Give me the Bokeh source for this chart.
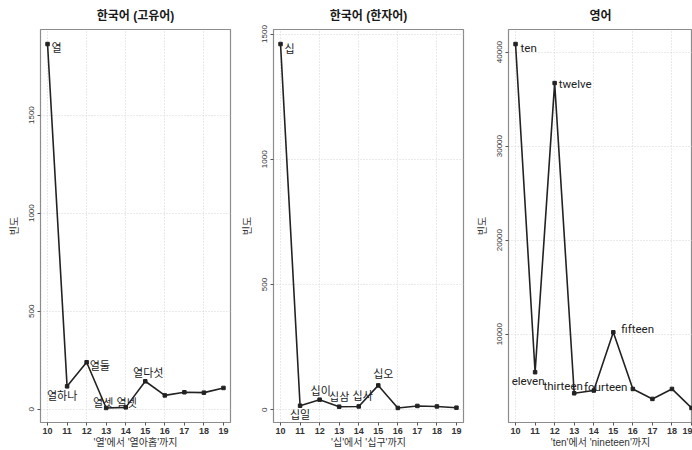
from bokeh.plotting import figure
from bokeh.layouts import row
from bokeh.models import FixedTicker, ColumnDataSource, Range1d
from bokeh.core.properties import value
from bokeh.embed import file_html
from bokeh.resources import INLINE

numbers = [10, 11, 12, 13, 14, 15, 16, 17, 18, 19]

native_words = ["열", "열하나", "열둘", "열셋", "열넷", "열다섯", "열여섯", "열일곱", "열여덟", "열아홉"]
native_freq = [1862, 117, 240, 7, 10, 143, 71, 87, 85, 109]

sino_words = ["십", "십일", "십이", "십삼", "십사", "십오", "십육", "십칠", "십팔", "십구"]
sino_freq = [1460, 16, 40, 12, 13, 97, 7, 15, 13, 8]

english_words = ["ten", "eleven", "twelve", "thirteen", "fourteen", "fifteen",
                 "sixteen", "seventeen", "eighteen", "nineteen"]
english_freq = [40850, 5960, 36700, 3720, 4010, 10200, 4180, 3120, 4180, 2160]

native_yticks = [0, 500, 1000, 1500]
sino_yticks = [0, 500, 1000, 1500]
english_yticks = [10000, 20000, 30000, 40000]

titles = ["한국어 (고유어)", "한국어 (한자어)", "영어"]
xlabels = ["'열'에서 '열아홉'까지", "'십'에서 '십구'까지", "'ten'에서 'nineteen'까지"]
ylabel = "빈도"
n_labelled = 6

# label placement styles (screen pixel offsets, alignment)
native_style = [(4, 3, "left"), (-5, 9, "center"), (3, 3, "left"),
                (-3, -6, "center"), (1, -5, "center"), (3, -9, "center")]
sino_style = [(4, 4, "left"), (0, 8, "center"), (1, -10, "center"),
              (0, -11, "center"), (4, -11, "center"), (5, -12, "center")]
english_style = [(5, 4, "left"), (-7, 9, "center"), (4, 1, "left"),
                 (-11, -7, "center"), (12, -4, "center"), (8, -3, "left")]

KFONT = "Noto Sans CJK KR"
MIXFONT = "Liberation Sans, Noto Sans CJK KR"
EFONT = "Roboto"


def panel(title, words, freq, xlabel, yticks, style, label_font, label_size,
          width, bl, br, xend):
    span = max(freq) - min(freq)
    ylo = min(freq) - 0.04 * span
    yhi = max(freq) + 0.04 * span
    p = figure(width=width, height=450, output_backend="svg", toolbar_location=None,
               x_range=Range1d(9.64, xend), y_range=Range1d(ylo, yhi),
               min_border_left=bl, min_border_right=br, min_border_top=0,
               min_border_bottom=0, title=title)
    p.title.align = "center"
    p.title.text_font = MIXFONT
    p.title.text_font_size = "12px"
    p.title.text_font_style = "bold"
    p.title.text_color = "#1a1a1a"
    p.title.standoff = 13
    p.title.offset = 0

    p.outline_line_color = "#8c8c8c"
    p.outline_line_width = 1.2
    p.background_fill_color = "white"
    p.border_fill_color = "white"

    p.xaxis.ticker = FixedTicker(ticks=numbers)
    p.yaxis.ticker = FixedTicker(ticks=yticks)
    p.xgrid.ticker = FixedTicker(ticks=[10, 12, 14, 16, 18])
    for g in (p.xgrid, p.ygrid):
        g.grid_line_color = "#d4d4d4"
        g.grid_line_dash = "1 2"
        g.grid_line_width = 1

    for ax in (p.xaxis, p.yaxis):
        ax.axis_line_color = None
        ax.major_tick_line_color = "#555555"
        ax.major_tick_out = 3
        ax.major_tick_in = 0
        ax.minor_tick_line_color = None
        ax.major_label_text_color = "#333333"
        ax.axis_label_text_font = MIXFONT
        ax.axis_label_text_font_style = "normal"
        ax.axis_label_text_font_size = "10px"
        ax.axis_label_text_color = "#333333"
    p.xaxis.major_label_text_font = "Liberation Sans"
    p.xaxis.major_label_text_font_size = "9px"
    p.xaxis.major_label_text_font_style = "bold"
    p.xaxis.major_label_standoff = 2
    p.xaxis.axis_label = xlabel
    p.xaxis.axis_label_standoff = 0
    p.yaxis.major_label_text_font = "Liberation Sans"
    p.yaxis.major_label_text_font_size = "8px"
    p.yaxis.major_label_orientation = "vertical"
    p.yaxis.major_label_standoff = 3
    p.yaxis.axis_label = ylabel
    p.yaxis.axis_label_standoff = 7

    src = ColumnDataSource(dict(x=numbers, y=freq))
    p.line("x", "y", source=src, line_color="#222222", line_width=1.6)
    p.scatter("x", "y", source=src, marker="square", size=3.5,
              fill_color="#222222", line_color="#222222")

    for i in range(n_labelled):
        dx, dy, al = style[i]
        p.text(x=[numbers[i]], y=[freq[i]], text=[words[i]],
               x_offset=dx, y_offset=dy, text_align=al, text_baseline="middle",
               text_font=value(label_font), text_font_size=label_size,
               text_color="#222222")
    return p


p1 = panel(titles[0], native_words, native_freq, xlabels[0], native_yticks,
           native_style, KFONT, "11px", 238, 40, 8, 19.36)
p2 = panel(titles[1], sino_words, sino_freq, xlabels[1], sino_yticks,
           sino_style, KFONT, "11px", 230, 35, 5, 19.36)
p3 = panel(titles[2], english_words, english_freq, xlabels[2], english_yticks,
           english_style, EFONT, "11.5px", 224, 40, 0, 19.05)

layout = row(p1, p2, p3, width=692, height=450)
open("out.html", "w").write(file_html(layout, INLINE))
